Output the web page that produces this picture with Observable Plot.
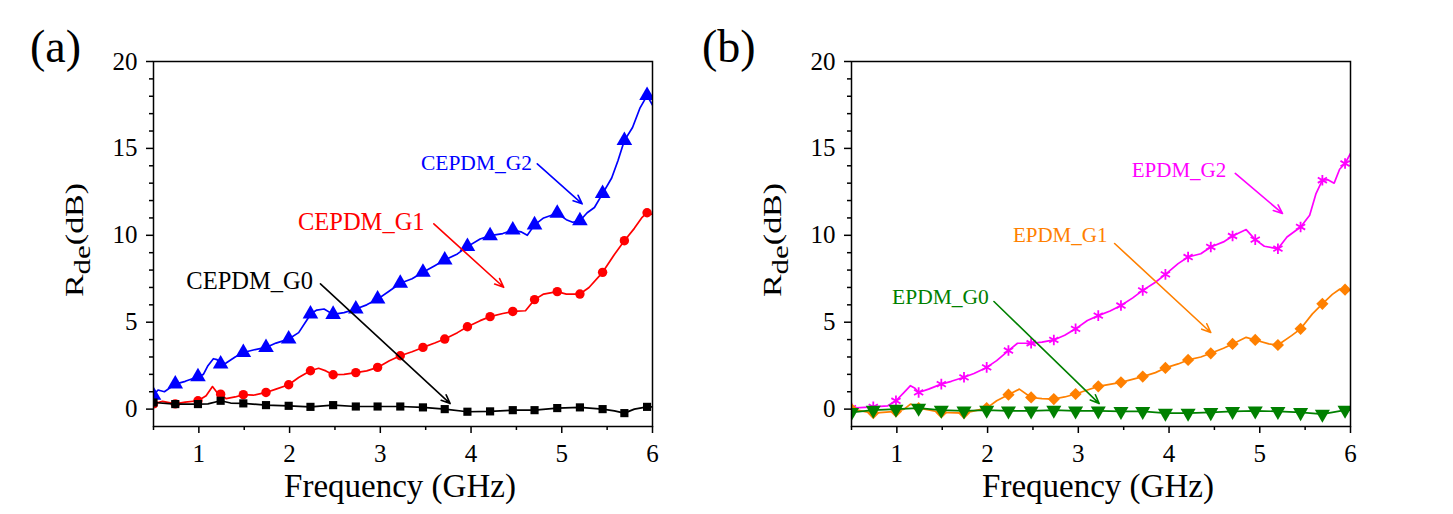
<!DOCTYPE html>
<html>
<head>
<meta charset="utf-8">
<script src="https://cdn.jsdelivr.net/npm/d3@7"></script>
<script src="https://cdn.jsdelivr.net/npm/@observablehq/plot@0.6"></script>
<style>
  html, body { margin: 0; padding: 0; background: #fff; }
  #wrap { position: relative; width: 1453px; height: 514px; overflow: hidden; background: #fff; }
  .panel { position: absolute; top: 0; }
  #wrap svg { overflow: visible; font-family: 'Liberation Serif', 'Times New Roman', serif !important; }
  #wrap svg text { font-family: 'Liberation Serif', 'Times New Roman', serif !important; }
</style>
</head>
<body>
<div id="wrap">
  <div class="panel" id="pa" style="left:0px"></div>
  <div class="panel" id="pb" style="left:698px"></div>
</div>
<script>
// ---------- Data ----------
const freqTicks = [1, 2, 3, 4, 5, 6];
const freqMinorTicks = [0.5, 1.5, 2.5, 3.5, 4.5, 5.5];
const dbTicks = [0, 5, 10, 15, 20];
const dbMinorTicks = [1, 2, 3, 4, 6, 7, 8, 9, 11, 12, 13, 14, 16, 17, 18, 19];
const markerFreqs = [0.5, 0.74, 0.99, 1.24, 1.49, 1.74, 1.99, 2.23, 2.48, 2.73, 2.97, 3.22,
  3.47, 3.71, 3.96, 4.21, 4.46, 4.7, 4.95, 5.2, 5.45, 5.69, 5.94];

// Panel (a)
const cepdmG2 = [[0.5,0.8],[0.55,1.1],[0.62,1.0],[0.74,1.44],[0.85,1.6],[0.99,1.86],[1.05,2.0],[1.1,2.5],[1.16,2.9],[1.2,2.85],[1.24,2.6],[1.3,2.65],[1.4,3.0],[1.49,3.26],[1.6,3.4],[1.74,3.55],[1.85,3.8],[1.99,4.03],[2.1,4.4],[2.2,5.2],[2.23,5.47],[2.3,5.7],[2.38,5.76],[2.48,5.45],[2.6,5.55],[2.73,5.76],[2.85,6.0],[2.97,6.33],[3.1,6.8],[3.22,7.24],[3.35,7.5],[3.47,7.87],[3.6,8.25],[3.71,8.58],[3.85,8.93],[3.96,9.35],[4.1,9.79],[4.21,9.98],[4.35,10.1],[4.46,10.3],[4.55,10.2],[4.62,10.0],[4.7,10.6],[4.8,11.0],[4.95,11.27],[5.05,10.9],[5.12,10.75],[5.2,10.84],[5.28,11.3],[5.36,11.6],[5.45,12.4],[5.55,13.3],[5.62,14.3],[5.69,15.45],[5.78,16.2],[5.86,17.3],[5.94,18.04],[6.0,17.5]];
const cepdmG1 = [[0.5,0.3],[0.6,0.45],[0.74,0.3],[0.85,0.4],[0.99,0.48],[1.08,0.77],[1.15,1.3],[1.2,0.96],[1.24,0.86],[1.3,0.6],[1.4,0.7],[1.49,0.83],[1.6,0.8],[1.74,0.96],[1.85,1.15],[1.99,1.4],[2.1,1.82],[2.23,2.21],[2.32,2.35],[2.4,2.2],[2.48,1.98],[2.6,2.0],[2.73,2.1],[2.85,2.2],[2.97,2.4],[3.1,2.78],[3.22,3.07],[3.35,3.3],[3.47,3.55],[3.6,3.8],[3.71,4.03],[3.85,4.4],[3.96,4.74],[4.1,5.09],[4.21,5.32],[4.35,5.5],[4.46,5.62],[4.6,5.66],[4.7,6.3],[4.8,6.62],[4.95,6.76],[5.05,6.62],[5.2,6.62],[5.3,7.0],[5.45,7.87],[5.58,8.9],[5.69,9.69],[5.8,10.4],[5.88,11.0],[5.94,11.3],[6.0,11.2]];
const cepdmG0 = [[0.5,0.38],[0.74,0.29],[0.99,0.29],[1.1,0.3],[1.24,0.48],[1.35,0.35],[1.49,0.33],[1.74,0.23],[1.99,0.19],[2.23,0.13],[2.48,0.23],[2.73,0.15],[2.97,0.15],[3.22,0.15],[3.47,0.1],[3.71,0.0],[3.96,-0.15],[4.21,-0.13],[4.46,-0.06],[4.7,-0.06],[4.95,0.06],[5.2,0.1],[5.45,0.0],[5.58,-0.1],[5.69,-0.23],[5.8,0.0],[5.94,0.13],[6.0,0.13]];

// Panel (b)
const epdmG2 = [[0.5,0.06],[0.74,0.13],[0.9,0.19],[0.99,0.48],[1.08,0.96],[1.15,1.35],[1.2,1.2],[1.24,0.96],[1.35,1.15],[1.49,1.44],[1.6,1.6],[1.74,1.83],[1.85,2.05],[1.99,2.4],[2.1,2.79],[2.23,3.37],[2.33,3.79],[2.48,3.79],[2.6,3.85],[2.73,3.98],[2.85,4.25],[2.97,4.62],[3.1,5.1],[3.22,5.38],[3.35,5.65],[3.47,5.96],[3.6,6.4],[3.71,6.83],[3.85,7.3],[3.96,7.75],[4.1,8.37],[4.21,8.75],[4.35,8.94],[4.46,9.33],[4.6,9.62],[4.7,9.96],[4.85,10.33],[4.95,9.75],[5.05,9.37],[5.2,9.23],[5.3,9.9],[5.45,10.48],[5.55,11.15],[5.62,12.4],[5.69,13.17],[5.75,13.2],[5.82,13.0],[5.88,13.8],[5.94,14.13],[6.0,14.71]];
const epdmG1 = [[0.5,0.0],[0.74,-0.23],[0.99,-0.13],[1.08,0.0],[1.15,0.29],[1.24,0.06],[1.35,-0.05],[1.49,-0.19],[1.74,-0.23],[1.99,0.06],[2.1,0.48],[2.23,0.83],[2.35,1.15],[2.48,0.67],[2.6,0.6],[2.73,0.58],[2.85,0.7],[2.97,0.87],[3.1,1.1],[3.22,1.31],[3.47,1.54],[3.71,1.87],[3.85,2.1],[3.96,2.37],[4.1,2.6],[4.21,2.83],[4.35,3.0],[4.46,3.21],[4.6,3.5],[4.7,3.75],[4.85,4.13],[4.95,3.98],[5.1,3.75],[5.2,3.69],[5.35,4.23],[5.45,4.62],[5.58,5.48],[5.69,6.06],[5.8,6.6],[5.88,6.9],[5.94,6.87],[6.0,6.83]];
const epdmG0 = [[0.5,-0.19],[0.74,-0.06],[0.99,0.0],[1.24,0.06],[1.49,-0.06],[1.74,-0.1],[1.99,-0.06],[2.23,-0.1],[2.48,-0.1],[2.73,-0.06],[2.97,-0.1],[3.22,-0.1],[3.47,-0.13],[3.71,-0.13],[3.96,-0.23],[4.21,-0.23],[4.46,-0.19],[4.7,-0.13],[4.95,-0.1],[5.2,-0.13],[5.45,-0.19],[5.69,-0.29],[5.94,-0.06],[6.0,-0.06]];

// Annotations: [label, textX, textY, arrowX1, arrowY1, arrowX2, arrowY2]
const annotA = [
  ["CEPDM_G2", 4.06, 14.16, 4.73, 14.11, 5.225, 11.81],
  ["CEPDM_G1", 2.79, 10.77, 3.59, 10.66, 4.36, 7.01],
  ["CEPDM_G0", 1.56, 7.37, 2.34, 7.21, 3.77, 0.32]
];
const annotB = [
  ["EPDM_G2", 4.11, 13.73, 4.73, 13.56, 5.25, 11.26],
  ["EPDM_G1", 2.80, 9.99, 3.40, 9.53, 4.46, 4.41],
  ["EPDM_G0", 1.48, 6.42, 2.07, 6.19, 3.23, 0.32]
];

const FONT = "'Liberation Serif', 'Times New Roman', serif";

function makePanel(el, letter, series, annots, labelSizes) {
  const marks = [
    Plot.axisX(freqMinorTicks, {tickSize: 4, tickFormat: () => "", label: null, strokeWidth: 1.5}),
    Plot.axisX(freqTicks, {tickSize: 7, tickPadding: 11, label: null, strokeWidth: 1.5, fontSize: 25}),
    Plot.axisY(dbMinorTicks, {tickSize: 4, tickFormat: () => "", label: null, strokeWidth: 1.5}),
    Plot.axisY(dbTicks, {tickSize: 7, tickPadding: 9, label: null, strokeWidth: 1.5, fontSize: 25}),
  ];
  for (const s of series) {
    marks.push(Plot.line(s.data, {x: d => d[0], y: d => d[1], stroke: s.color, strokeWidth: 1.7, clip: true}));
    marks.push(Plot.dot(s.data.filter(d => markerFreqs.includes(d[0])), {
      x: d => d[0], y: d => d[1], symbol: s.symbol, r: s.r, rotate: s.rotate || 0,
      fill: s.hollow ? "none" : s.color, stroke: s.hollow ? s.color : "none",
      strokeWidth: s.hollow ? 1.8 : 0, clip: true
    }));
  }
  annots.forEach((a, i) => {
    const c = series[i].color;
    marks.push(Plot.arrow([a], {x1: d => d[3], y1: d => d[4], x2: d => d[5], y2: d => d[6],
      stroke: c, strokeWidth: 1.6, headLength: 9, headAngle: 45}));
    marks.push(Plot.text([a], {x: d => d[1], y: d => d[2], text: d => d[0], fill: c,
      fontSize: labelSizes[i], fontFamily: FONT}));
  });
  marks.push(Plot.frame({stroke: "black", strokeWidth: 1.5}));

  const svg = Plot.plot({
    width: 700, height: 514,
    marginLeft: 153, marginRight: 48, marginTop: 61, marginBottom: 88,
    x: {domain: [0.5, 6]},
    y: {domain: [-1, 20]},
    style: {fontFamily: FONT, fontSize: "25px", color: "black", background: "white", overflow: "visible"},
    marks
  });
  const s = d3.select(svg);
  s.append("text").attr("x", letter.x).attr("y", 62).attr("text-anchor", "start").attr("font-family", FONT)
    .attr("font-size", 46).attr("fill", "black").text(letter.t);
  s.append("text").attr("x", 400).attr("y", 497).attr("text-anchor", "middle")
    .attr("font-family", FONT).attr("font-size", 33).attr("fill", "black").text("Frequency (GHz)");
  const yl = s.append("text").attr("transform", "translate(83,240) rotate(-90) scale(1,0.72)")
    .attr("text-anchor", "middle").attr("font-family", FONT).attr("font-size", 34).attr("fill", "black");
  yl.append("tspan").text("R");
  yl.append("tspan").attr("dy", 10).attr("font-size", 31).text("de");
  yl.append("tspan").attr("dy", -10).text("(dB)");
  el.appendChild(svg);
}

makePanel(document.getElementById("pa"), {t: "(a)", x: 30}, [
  {data: cepdmG2, color: "#0000ff", symbol: "triangle", r: 5.8},
  {data: cepdmG1, color: "#ff0000", symbol: "circle", r: 4.7},
  {data: cepdmG0, color: "#000000", symbol: "square", r: 4.6}
], annotA, [21.5, 24.5, 24.5]);

makePanel(document.getElementById("pb"), {t: "(b)", x: 4}, [
  {data: epdmG2, color: "#ff00ff", symbol: "asterisk", r: 5, hollow: true},
  {data: epdmG1, color: "#ff8000", symbol: "diamond2", r: 5.5},
  {data: epdmG0, color: "#008000", symbol: "triangle", r: 5.6, rotate: 180}
], annotB, [21, 21, 21.5]);
</script>
</body>
</html>
